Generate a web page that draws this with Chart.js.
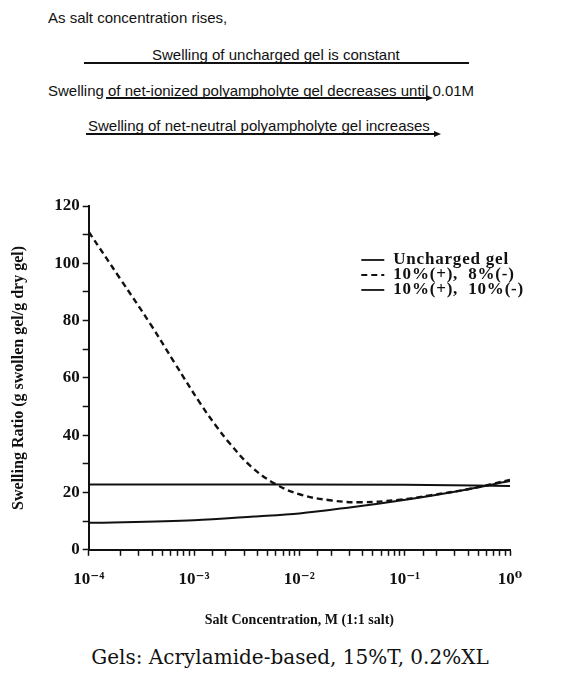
<!DOCTYPE html>
<html>
<head>
<meta charset="utf-8">
<script src="https://cdn.jsdelivr.net/npm/chart.js@4"></script>
<style>
  body { margin: 0; background: #fff; width: 572px; height: 681px; position: relative; overflow: hidden; }
  .note { position: absolute; font-family: "Liberation Sans", Arial, sans-serif; font-size: 15px; color: #111; white-space: nowrap; line-height: 17px; }
  .rule { position: absolute; height: 0; border-top: 2px solid #111; }
  .arrow { position: absolute; width: 0; height: 0; border-top: 3px solid transparent; border-bottom: 3px solid transparent; border-left: 7px solid #111; }
  #wrap { position: absolute; left: 0; top: 190px; width: 572px; height: 447px; }
  #caption { position: absolute; left: 0; width: 580px; top: 645px; text-align: center; font-family: "DejaVu Serif", serif; font-size: 20px; color: #111; }
</style>
</head>
<body>
<div class="note" style="left:48px; top:9px;">As salt concentration rises,</div>
<div class="note" style="left:152px; top:46px;">Swelling of uncharged gel is constant</div>
<div class="rule" style="left:84px; width:385px; top:62px;"></div>
<div class="note" style="left:48px; top:82px;">Swelling of net-ionized polyampholyte gel decreases until 0.01M</div>
<div class="rule" style="left:106px; width:322px; top:97px;"></div>
<div class="arrow" style="left:426px; top:95px;"></div>
<div class="note" style="left:88px; top:117px;">Swelling of net-neutral polyampholyte gel increases</div>
<div class="rule" style="left:86px; width:350px; top:133px;"></div>
<div class="arrow" style="left:434px; top:131px;"></div>

<div id="wrap"><canvas id="myChart"></canvas></div>
<div id="caption">Gels: Acrylamide-based, 15%T, 0.2%XL</div>

<script>
// salt concentration (M) and swelling ratio
const unchargedX = [1e-4, 1e-3, 1e-2, 1e-1, 1];
const unchargedY = [22.8, 22.8, 22.8, 22.7, 22.3];

const ionizedX = [1e-4, 2e-4, 3.9e-4, 6.6e-4, 1.15e-3, 1.6e-3, 2.2e-3, 3.5e-3, 5.9e-3, 1.02e-2, 1.95e-2, 3.8e-2, 9.1e-2, 0.174, 0.42, 1];
const ionizedY = [111, 94.5, 78.5, 65, 51, 43.5, 37, 29, 23, 19.3, 17.3, 16.6, 17.5, 19, 21.3, 24.4];

const neutralX = [1e-4, 1e-3, 3.7e-3, 1e-2, 3e-2, 9.1e-2, 0.27, 1];
const neutralY = [9.4, 10.3, 11.6, 12.7, 14.8, 17.2, 20, 24];

const legendLabels = ['Uncharged gel', '10%(+),  8%(-)', '10%(+),  10%(-)'];

const toPoints = (xs, ys) => xs.map((x, i) => ({ x: x, y: ys[i] }));

const serif = '"Liberation Serif", "DejaVu Serif", serif';
const sup = { '-': '\u207B', '0': '\u2070', '1': '\u00B9', '2': '\u00B2', '3': '\u00B3', '4': '\u2074' };

// legend drawn inside the plot, top right
const insideLegend = {
    id: 'insideLegend',
    afterDraw(chart) {
        const c = chart.ctx;
        const a = chart.chartArea;
        const x0 = a.left + (a.right - a.left) * 0.647;
        const y0 = a.top + (a.bottom - a.top) * 0.157;
        c.save();
        c.font = 'bold 17px ' + serif;
        c.letterSpacing = '0.8px';
        c.fillStyle = '#111';
        c.textBaseline = 'middle';
        chart.data.datasets.forEach((ds, i) => {
            const y = y0 + i * 15;
            c.beginPath();
            c.strokeStyle = '#111';
            c.lineWidth = 1.8;
            c.setLineDash(ds.borderDash || []);
            c.moveTo(x0, y);
            c.lineTo(x0 + 23, y);
            c.stroke();
            c.setLineDash([]);
            c.fillText(ds.label, x0 + 32, y);
        });
        c.restore();
    }
};

const ctx = document.getElementById('myChart').getContext('2d');
let myChart = new Chart(ctx, {
    type: 'line',
    data: {
        datasets: [
            { label: legendLabels[0], data: toPoints(unchargedX, unchargedY), borderColor: '#111', borderWidth: 2, pointRadius: 0, cubicInterpolationMode: 'monotone' },
            { label: legendLabels[1], data: toPoints(ionizedX, ionizedY), borderColor: '#111', borderWidth: 2.4, borderDash: [6, 4], pointRadius: 0, tension: 0.4 },
            { label: legendLabels[2], data: toPoints(neutralX, neutralY), borderColor: '#111', borderWidth: 2, pointRadius: 0, cubicInterpolationMode: 'monotone' }
        ]
    },
    options: {
        responsive: true,
        maintainAspectRatio: false,
        animation: false,
        layout: { padding: { left: 5, right: 62, top: 16, bottom: 4 } },
        plugins: { legend: { display: false }, tooltip: { enabled: false } },
        scales: {
            x: {
                type: 'logarithmic',
                min: 1e-4,
                max: 1,
                border: { color: '#111', width: 2 },
                grid: { drawOnChartArea: false, color: '#111', tickLength: 6, tickWidth: 1.5 },
                ticks: {
                    autoSkip: false,
                    maxRotation: 0,
                    color: '#111',
                    padding: 14,
                    font: { family: serif, size: 17, weight: 'bold' },
                    callback: (v) => {
                        const e = Math.log10(v);
                        if (Math.abs(e - Math.round(e)) > 1e-6) return '';
                        return '10' + String(Math.round(e)).split('').map(ch => sup[ch]).join('');
                    }
                },
                title: {
                    display: true,
                    text: 'Salt Concentration, M (1:1 salt)',
                    color: '#111',
                    padding: { top: 8, bottom: 4 },
                    font: { family: serif, size: 14, weight: 'bold' }
                }
            },
            y: {
                min: 0,
                max: 120,
                border: { color: '#111', width: 2 },
                grid: { drawOnChartArea: false, color: '#111', tickLength: 6, tickWidth: 1.5 },
                ticks: {
                    stepSize: 10,
                    color: '#111',
                    padding: 3,
                    font: { family: serif, size: 17, weight: 'bold' },
                    callback: (v) => (v % 20 === 0 ? v : '')
                },
                title: {
                    display: true,
                    text: 'Swelling Ratio (g swollen gel/g dry gel)',
                    color: '#111',
                    padding: { top: 4, bottom: 23 },
                    font: { family: serif, size: 16, weight: 'bold' }
                }
            }
        }
    },
    plugins: [insideLegend]
});
</script>
</body>
</html>
